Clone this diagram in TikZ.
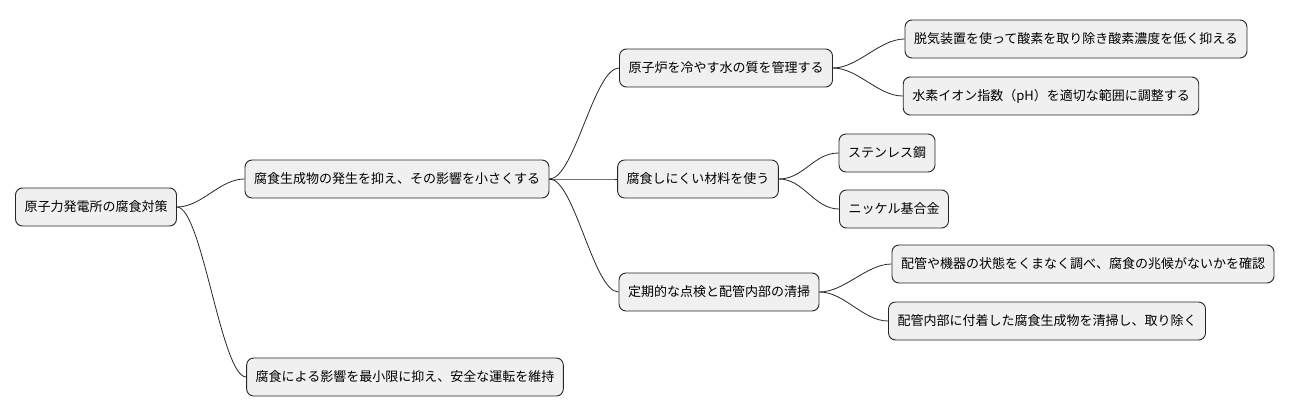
\documentclass[tikz,border=0pt]{standalone}
\usepackage{fontspec}
\newfontfamily\cjk{Noto Sans CJK JP}
\begin{document}
\begin{tikzpicture}[x=1pt,y=-1pt,
  box/.style={draw=black!85,fill=black!6,rounded corners=7pt,line width=0.9pt,
    minimum height=38pt,inner xsep=9pt,font=\cjk\fontsize{13}{15}\selectfont,anchor=center},
  link/.style={draw=black!85,line width=0.8pt}]
\useasboundingbox (0,0) rectangle (1300,415);
\node[box] (r) at (96,207) {原子力発電所の腐食対策};
\node[box] (a) at (397,179) {腐食生成物の発生を抑え、その影響を小さくする};
\node[box] (b) at (405,377) {腐食による影響を最小限に抑え、安全な運転を維持};
\node[box] (a1) at (726,68) {原子炉を冷やす水の質を管理する};
\node[box] (a2) at (698,179) {腐食しにくい材料を使う};
\node[box] (a3) at (719,292) {定期的な点検と配管内部の清掃};
\node[box] (a1a) at (1076,39) {脱気装置を使って酸素を取り除き酸素濃度を低く抑える};
\node[box] (a1b) at (1051,96) {水素イオン指数（pH）を適切な範囲に調整する};
\node[box] (a2a) at (887,153) {ステンレス鋼};
\node[box] (a2b) at (894,209) {ニッケル基合金};
\node[box] (a3a) at (1083,264) {配管や機器の状態をくまなく調べ、腐食の兆候がないかを確認};
\node[box] (a3b) at (1047,321) {配管内部に付着した腐食生成物を清掃し、取り除く};
\foreach \p/\c in {r/a,r/b,a/a1,a/a2,a/a3,a1/a1a,a1/a1b,a2/a2a,a2/a2b,a3/a3a,a3/a3b}
  \draw[link] (\p.east) .. controls +(25,0) and +(-25,0) .. (\c.west);
\end{tikzpicture}
\end{document}
